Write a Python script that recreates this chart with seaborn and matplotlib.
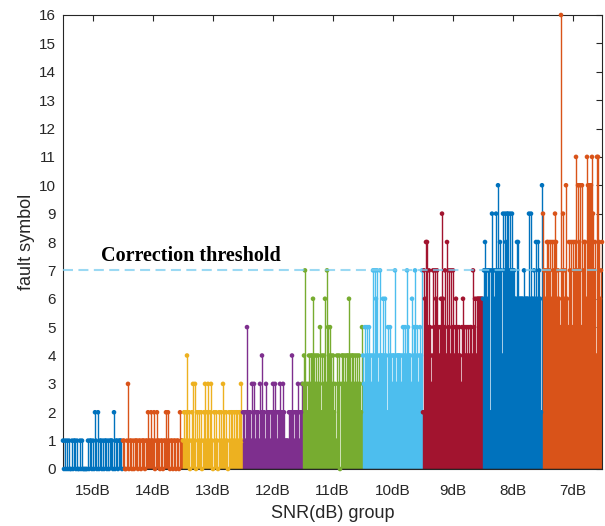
import matplotlib
matplotlib.use('Agg')
import matplotlib.pyplot as plt
import numpy as np
import pandas as pd
import seaborn as sns

groups = ['15dB', '14dB', '13dB', '12dB', '11dB', '10dB', '9dB', '8dB', '7dB']
colors = ['#0072BD', '#D95319', '#EDB120', '#7E2F8E', '#77AC30',
          '#4DBEEE', '#A2142F', '#0072BD', '#D95319']

g15 = [1,0,1,0,1,0,1,0,0,1,0,1,1,0,1,0,0,1,0,1,
       0,0,0,0,0,1,0,1,1,0,1,0,2,1,0,2,0,1,1,0,
       1,0,1,1,0,1,0,1,1,1,0,2,0,1,1,0,1,1,1,0]
g14 = [1,1,0,0,1,3,0,1,1,0,1,0,1,1,1,0,1,1,0,1,
       1,1,0,1,1,2,1,1,2,1,1,2,0,1,2,1,1,0,1,1,
       0,1,1,2,1,2,1,0,1,1,0,1,1,0,1,1,0,2,1,1]
g13 = [1,2,1,2,4,1,2,0,1,2,3,1,3,0,2,1,2,1,2,0,
       1,2,3,1,2,3,1,2,3,1,0,2,1,2,1,0,2,1,2,1,
       3,2,1,2,1,0,2,1,2,2,1,2,1,2,2,1,2,2,3,1]
g12 = [2,2,1,2,5,2,2,2,1,3,2,3,1,2,2,2,1,3,2,4,
       2,2,1,3,2,2,2,1,2,2,3,2,3,2,1,2,2,3,2,2,
       3,2,1,1,1,1,2,2,2,4,2,1,2,2,2,3,1,2,2,3]
g11 = [3,4,7,3,2,3,4,3,4,4,6,4,3,4,3,4,3,5,2,4,
       3,4,6,3,7,5,4,5,4,3,4,2,3,1,4,3,4,0,3,4,
       4,3,4,3,4,4,6,4,3,4,4,3,4,3,4,3,4,3,2,5]
g10 = [4,3,5,4,5,4,5,4,3,4,7,4,7,6,7,3,4,7,4,4,
       6,4,6,4,2,5,4,5,4,3,4,4,7,3,4,4,4,4,3,4,
       5,4,5,4,7,5,4,4,3,6,4,5,7,4,5,3,4,5,4,7]
g9 = [2,7,6,8,8,5,7,5,3,4,7,5,7,6,7,5,4,5,6,9,
      6,5,7,4,8,5,7,4,7,5,7,4,5,6,5,4,5,4,3,5,
      6,5,4,5,4,5,4,5,5,4,7,5,6,4,6,6,6,6,6,6]
g8 = [6,7,8,7,6,7,7,2,7,9,7,6,7,9,7,10,7,8,7,4,
      9,7,9,8,9,9,7,9,7,9,7,7,6,6,8,8,6,6,6,6,
      6,7,6,6,6,6,9,6,9,6,6,7,6,8,6,8,7,6,2,10]
g7 = [9,7,6,7,8,8,7,8,6,8,7,8,9,8,6,7,6,5,16,7,
      9,6,7,10,6,5,8,7,8,5,8,7,8,11,7,10,8,10,5,10,
      7,8,8,6,11,10,10,10,10,11,9,7,8,4,11,11,8,6,7,8]

threshold = 7
threshold_label = 'Correction threshold'
y_ticks = list(range(0, 17))

series = [g15, g14, g13, g12, g11, g10, g9, g8, g7]
rows = []
pos = 0
for name, vals in zip(groups, series):
    for v in vals:
        rows.append((pos, v, name))
        pos += 1
df = pd.DataFrame(rows, columns=['idx', 'fault', 'group'])
n_per = len(g15)

sns.set_theme(style='white')
plt.rcParams['font.family'] = ['Liberation Sans', 'DejaVu Sans']

W, H = 605, 526
fig = plt.figure(figsize=(W / 100, H / 100), dpi=100)
ax = fig.add_axes([63 / W, 1 - 469 / H, (602 - 63) / W, (469 - 15) / H])

for name, col in zip(groups, colors):
    sub = df[df['group'] == name]
    ax.vlines(sub['idx'], 0, sub['fault'], color=col, lw=1.0, zorder=2)

ax.axhline(0, color='#1a1a1a', lw=1.0, zorder=2.5)

sns.scatterplot(data=df, x='idx', y='fault', hue='group',
                palette=dict(zip(groups, colors)), s=11, linewidth=0,
                legend=False, ax=ax, zorder=3, clip_on=False)

ax.axhline(threshold, color='#7ACDF0', ls=(0, (4.8, 2.6)), lw=1.5,
           alpha=0.75, zorder=4)
ax.text(38, threshold + 0.15, threshold_label, fontfamily=['Liberation Serif'],
        fontweight='bold', fontsize=14.5, color='black', va='bottom', ha='left')

ax.set_xlim(0, len(df) - 1)
ax.set_ylim(0, 16)
ax.set_xticks([n_per * k + (n_per - 1) / 2 for k in range(len(groups))])
ax.set_xticklabels(groups)
ax.set_yticks(y_ticks)
ax.tick_params(axis='both', direction='in', top=True, right=True, length=4,
               width=0.8, colors='#262626', labelsize=11)
ax.tick_params(axis='x', pad=11)
ax.tick_params(axis='y', pad=5)
for sp in ax.spines.values():
    sp.set_color('#262626')
    sp.set_linewidth(0.8)
    sp.set_visible(True)

ax.set_xlabel('SNR(dB) group', fontsize=13, color='#262626', labelpad=5)
ax.set_ylabel('fault symbol', fontsize=13, color='#262626', labelpad=3)

fig.savefig('out.png', dpi=100)
